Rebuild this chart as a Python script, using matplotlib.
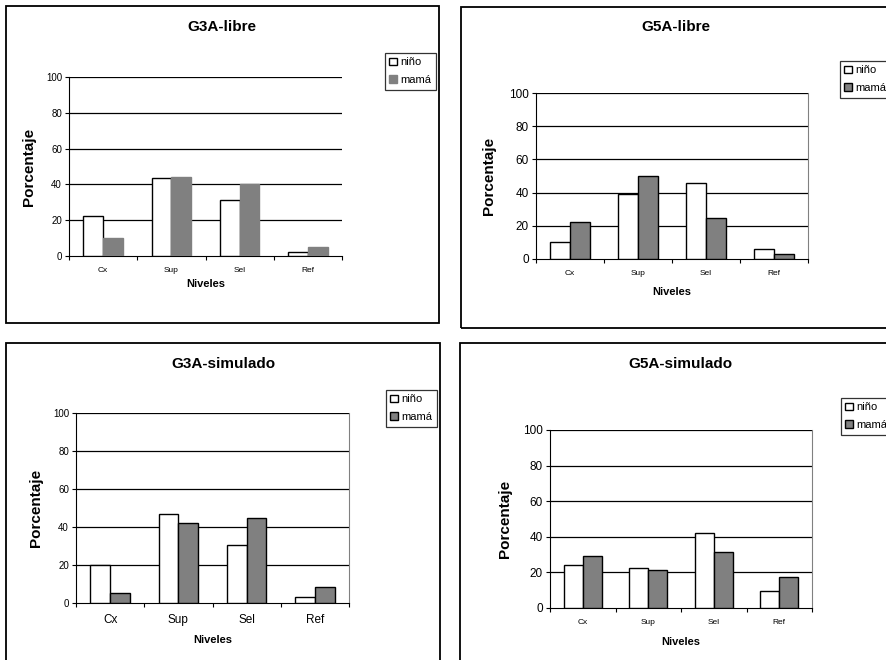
''' Four grouped bar charts: niño vs mamá per level '''

import matplotlib
matplotlib.use("Agg")
import matplotlib.pyplot as plt
from matplotlib.patches import Rectangle
import numpy as np

plt.rcParams['font.family'] = ['Liberation Sans', 'DejaVu Sans']

W, H = 886, 660

niveles = ["Cx", "Sup", "Sel", "Ref"]
series_names = ["niño", "mamá"]

# G3A-libre
g3a_libre_nino = [22.6, 43.8, 31.2, 2.2]
g3a_libre_mama = [10.2, 44.2, 40.1, 5.2]
# G5A-libre
g5a_libre_nino = [10.1, 39.2, 45.7, 6.0]
g5a_libre_mama = [22.1, 49.9, 24.5, 3.2]
# G3A-simulado
g3a_sim_nino = [20.0, 46.8, 30.4, 3.2]
g3a_sim_mama = [5.3, 42.3, 44.6, 8.2]
# G5A-simulado
g5a_sim_nino = [24.1, 22.6, 42.2, 9.3]
g5a_sim_mama = [29.0, 21.1, 31.4, 17.2]

y_ticks = [0, 20, 40, 60, 80, 100]


def frac(x0, y0, x1, y1):
    ''' pixel box (top-left origin) -> figure fraction rect '''
    return [x0 / W, 1 - y1 / H, (x1 - x0) / W, (y1 - y0) / H]


panels = [
    dict(title="G3A-libre", nino=g3a_libre_nino, mama=g3a_libre_mama,
         box=(6, 6, 439, 323), ax=(69, 77, 342, 256), leg=(385, 53),
         title_y=27, title_x=222, ylab_x=29, xlab_y=284,
         tick_fs=7.0, cat_fs=6.0, mama_edge="#808080", right_spine=False),
    dict(title="G5A-libre", nino=g5a_libre_nino, mama=g5a_libre_mama,
         box=(461, 7, 900, 328), ax=(536, 93, 808, 259), leg=(840, 61),
         title_y=27, title_x=676, ylab_x=489, xlab_y=292,
         tick_fs=8.5, cat_fs=6.0, mama_edge="black", right_spine=True),
    dict(title="G3A-simulado", nino=g3a_sim_nino, mama=g3a_sim_mama,
         box=(6, 343, 440, 680), ax=(76, 413, 349, 603), leg=(386, 390),
         title_y=364, title_x=223, ylab_x=36, xlab_y=640,
         tick_fs=7.0, cat_fs=8.5, mama_edge="black", right_spine=True),
    dict(title="G5A-simulado", nino=g5a_sim_nino, mama=g5a_sim_mama,
         box=(460, 343, 900, 680), ax=(550, 430, 812, 608), leg=(841, 398),
         title_y=364, title_x=680, ylab_x=505, xlab_y=642,
         tick_fs=8.5, cat_fs=6.0, mama_edge="black", right_spine=True),
]

fig = plt.figure(figsize=(W / 100, H / 100), dpi=100)
fig.patch.set_facecolor("white")

x = np.arange(len(niveles))
bw = 0.29

for p in panels:
    # outer chart border
    bx0, by0, bx1, by1 = p["box"]
    r = frac(bx0, by0, bx1, by1)
    fig.patches.append(Rectangle((r[0], r[1]), r[2], r[3], transform=fig.transFigure,
                                 fill=False, edgecolor="black", linewidth=1.3))

    ax = fig.add_axes(frac(*p["ax"]))
    ax.bar(x - bw / 2, p["nino"], bw, color="white", edgecolor="black",
           linewidth=1.0, label=series_names[0], zorder=3)
    ax.bar(x + bw / 2, p["mama"], bw, color="#808080", edgecolor=p["mama_edge"],
           linewidth=1.0, label=series_names[1], zorder=3)

    ax.set_xlim(-0.5, len(niveles) - 0.5)
    ax.set_ylim(0, 100)
    ax.set_yticks(y_ticks)
    ax.set_yticklabels([str(t) for t in y_ticks], fontsize=p["tick_fs"])
    for t in y_ticks[1:]:
        ax.axhline(t, color="black", linewidth=0.9, zorder=1)

    ax.set_xticks(x)
    ax.set_xticklabels(niveles, fontsize=p["cat_fs"])
    ax.set_xticks(np.arange(len(niveles) + 1) - 0.5, minor=True)
    ax.tick_params(axis="x", which="major", length=0, pad=8)
    ax.tick_params(axis="x", which="minor", length=3, direction="out", width=0.8)
    ax.tick_params(axis="y", length=3, direction="out", width=0.8, pad=2)

    ax.spines["top"].set_visible(False)
    ax.spines["left"].set_color("black")
    ax.spines["bottom"].set_color("black")
    if p["right_spine"]:
        ax.spines["right"].set_color("#808080")
    else:
        ax.spines["right"].set_visible(False)

    fig.text(p["title_x"] / W, 1 - p["title_y"] / H, p["title"], ha="center",
             va="center", fontsize=11, fontweight="bold")
    fig.text(p["ylab_x"] / W, 1 - ((p["ax"][1] + p["ax"][3]) / 2) / H, "Porcentaje",
             ha="center", va="center", rotation=90, fontsize=11, fontweight="bold")
    fig.text(((p["ax"][0] + p["ax"][2]) / 2) / W, 1 - p["xlab_y"] / H, "Niveles",
             ha="center", va="center", fontsize=8, fontweight="bold")

    lx, ly = p["leg"]
    leg = ax.legend(loc="upper left", bbox_to_anchor=(lx / W, 1 - ly / H),
                    bbox_transform=fig.transFigure, fontsize=8, frameon=True,
                    fancybox=False, edgecolor="black", handlelength=0.7,
                    handleheight=0.7, handletextpad=0.3, borderpad=0.4,
                    labelspacing=0.7, borderaxespad=0)
    leg.get_frame().set_linewidth(0.9)

fig.savefig("out.png", dpi=100, facecolor="white")
